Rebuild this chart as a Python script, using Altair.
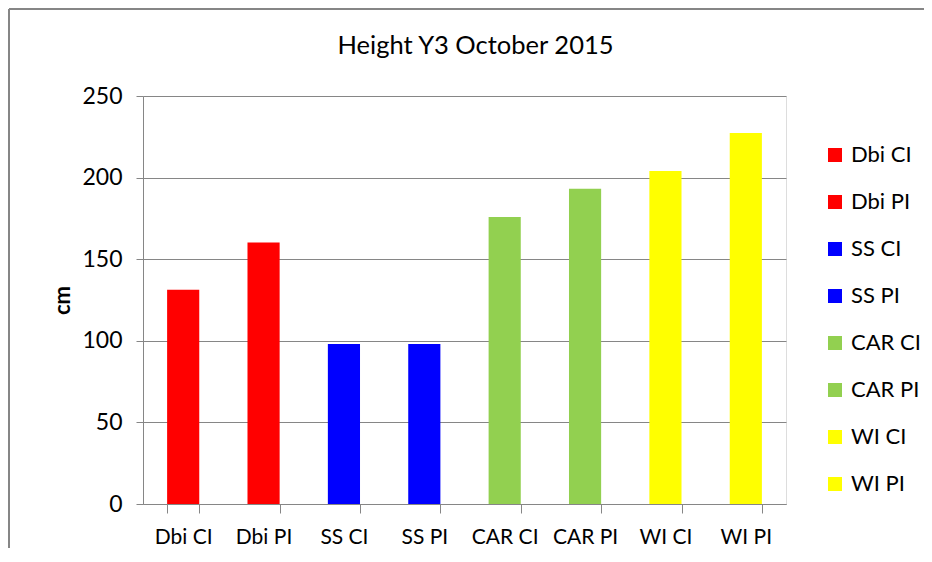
import altair as alt
import pandas as pd

categories = ["Dbi CI", "Dbi PI", "SS CI", "SS PI", "CAR CI", "CAR PI", "WI CI", "WI PI"]
heights = [131.3, 160.2, 98.0, 98.0, 175.9, 193.1, 204.1, 227.4]
colors = ["#FF0000", "#FF0000", "#0000FF", "#0000FF", "#92D050", "#92D050", "#FFFF00", "#FFFF00"]
y_ticks = [0, 50, 100, 150, 200, 250]
title_text = "Height Y3 October 2015"
y_title = "cm"

df = pd.DataFrame({"category": categories, "height": heights})

FONT = "Lato"
GRAY = "#868686"

bars = alt.Chart(df).mark_bar().encode(
    x=alt.X(
        "category:N",
        sort=categories,
        scale=alt.Scale(paddingInner=0.6, paddingOuter=0.3),
        axis=alt.Axis(
            title=None, labelAngle=0, tickBand="extent", labelFontSize=21,
            labelFont=FONT, labelColor="#000000", domainColor=GRAY, tickColor=GRAY,
            tickSize=9, labelPadding=13, grid=False,
        ),
    ),
    y=alt.Y(
        "height:Q",
        scale=alt.Scale(domain=[0, 250]),
        axis=alt.Axis(
            values=y_ticks, title=y_title, labelFontSize=23, labelFont=FONT,
            labelColor="#000000", domainColor=GRAY, tickColor=GRAY, tickSize=7,
            labelPadding=14, gridColor=GRAY, gridWidth=1,
            titleFont=FONT, titleFontSize=22, titleFontWeight="bold", titleColor="#000000",
            titleX=-81, titleY=204, titleAngle=-90, titleAlign="center", titleBaseline="middle",
        ),
    ),
    color=alt.Color(
        "category:N",
        sort=categories,
        scale=alt.Scale(domain=categories, range=colors),
        legend=alt.Legend(
            title=None, orient="none", legendX=681, legendY=48, symbolType="square",
            symbolSize=196, symbolStrokeWidth=0, labelFontSize=22, labelFont=FONT,
            labelColor="#000000", rowPadding=25, labelOffset=5, labelLimit=200,
        ),
    ),
)

frame_df = pd.DataFrame({"k": [0]})
frame_top = alt.Chart(frame_df).mark_rule(stroke=GRAY, strokeWidth=2).encode(
    x=alt.value(-134), x2=alt.value(1000), y=alt.value(-87)
)
frame_left = alt.Chart(frame_df).mark_rule(stroke=GRAY, strokeWidth=2).encode(
    x=alt.value(-134), y=alt.value(-87), y2=alt.value(1000)
)

chart = alt.layer(frame_top, frame_left, bars).properties(
    width=643,
    height=408,
    title=alt.TitleParams(
        title_text, font=FONT, fontSize=25.5, fontWeight="normal", color="#000000",
        anchor="middle", dx=11, offset=-71, baseline="alphabetic", frame="group",
    ),
    autosize=alt.AutoSizeParams(type="none"),
    padding={"left": 135, "top": 88, "right": 138, "bottom": 44},
).configure_view(stroke=None).configure(background="white")

chart.save("out.html", embed_options={"renderer": "svg", "actions": False})
